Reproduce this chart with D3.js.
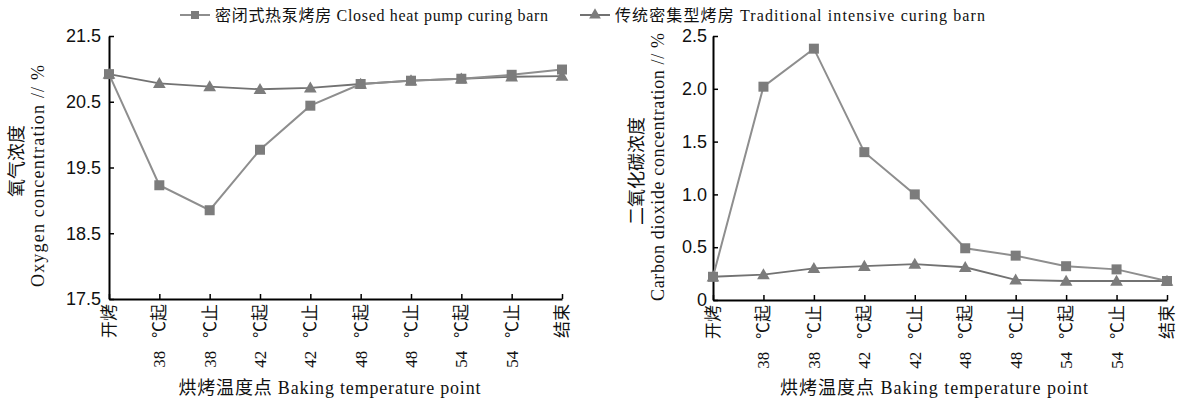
<!DOCTYPE html>
<html lang="zh">
<head>
<meta charset="utf-8"/>
<title>烤房氧气与二氧化碳浓度</title>
<script src="https://cdn.jsdelivr.net/npm/d3@7"></script>
<style>
  body { margin: 0; background: #fff; }
  svg { display: block; font-family: "Liberation Serif", "Noto Sans CJK SC", serif; }
  .tick text { font-size: 18px; fill: #111; }
  .xlab { font-size: 17px; white-space: pre; }
</style>
</head>
<body>
<svg id="chart" width="1187" height="405"></svg>
<script>
// baking temperature points
const stages = ["开烤", "38   ℃起", "38   ℃止", "42   ℃起", "42   ℃止", "48   ℃起", "48   ℃止", "54   ℃起", "54   ℃止", "结束"];

const seriesNames = ["密闭式热泵烤房 Closed heat pump curing barn", "传统密集型烤房 Traditional intensive curing barn"];

// oxygen concentration, %
const oxygenClosed = [20.92, 19.23, 18.85, 19.77, 20.44, 20.77, 20.82, 20.85, 20.91, 20.99];
const oxygenTraditional = [20.92, 20.78, 20.73, 20.69, 20.71, 20.77, 20.82, 20.85, 20.88, 20.89];
const oxygenTicks = [17.5, 18.5, 19.5, 20.5, 21.5];

// carbon dioxide concentration, %
const co2Closed = [0.22, 2.02, 2.38, 1.40, 1.00, 0.49, 0.42, 0.32, 0.29, 0.18];
const co2Traditional = [0.22, 0.24, 0.30, 0.32, 0.34, 0.31, 0.19, 0.18, 0.18, 0.18];
const co2Ticks = [0, 0.5, 1.0, 1.5, 2.0, 2.5];

const svg = d3.select("#chart");

const lineGrey = "#8e8e8e";
const triLine = "#727272";
const markGrey = "#7c7c7c";

function panel(opt) {
  const g = svg.append("g");
  const x = d3.scalePoint().domain(stages).range([opt.x0, opt.x1]);
  const y = d3.scaleLinear().domain(opt.domain).range([opt.y1, opt.y0]);

  // y axis
  const ya = g.append("g")
    .attr("transform", `translate(${opt.x0},0)`)
    .call(d3.axisLeft(y).tickValues(opt.ticks).tickSizeInner(-5).tickSizeOuter(0).tickPadding(opt.pad).tickFormat(opt.fmt));
  ya.select(".domain").attr("stroke", "#000").attr("stroke-width", 2);
  ya.selectAll(".tick line").attr("stroke", "#000").attr("stroke-width", 1.5);

  // x axis
  const xa = g.append("g")
    .attr("transform", `translate(0,${opt.y1})`)
    .call(d3.axisBottom(x).tickSizeInner(-5).tickSizeOuter(0).tickFormat(""));
  xa.select(".domain").attr("stroke", "#000").attr("stroke-width", 2);
  xa.selectAll(".tick line").attr("stroke", "#000").attr("stroke-width", 1.5);

  g.selectAll(".xlab")
    .data(stages)
    .enter().append("text")
    .attr("class", "xlab")
    .attr("transform", d => `translate(${x(d)},${opt.y1 + 5}) rotate(-90)`)
    .attr("dy", "0.35em")
    .attr("text-anchor", "end")
    .attr("fill", "#111")
    .text(d => d);

  const line = d3.line().x((d, i) => x(stages[i])).y(d => y(d));

  // traditional first, closed on top
  g.append("path").datum(opt.trad)
    .attr("d", line).attr("fill", "none").attr("stroke", triLine).attr("stroke-width", 1.8);
  g.selectAll(".tri").data(opt.trad).enter().append("path")
    .attr("transform", (d, i) => `translate(${x(stages[i])},${y(d) + 1})`)
    .attr("d", d3.symbol(d3.symbolTriangle, 70))
    .attr("fill", markGrey);

  g.append("path").datum(opt.closed)
    .attr("d", line).attr("fill", "none").attr("stroke", lineGrey).attr("stroke-width", 2);
  g.selectAll(".sq").data(opt.closed).enter().append("path")
    .attr("transform", (d, i) => `translate(${x(stages[i])},${y(d)})`)
    .attr("d", d3.symbol(d3.symbolSquare, 100))
    .attr("fill", markGrey);

  // axis titles
  g.append("text")
    .attr("x", (opt.x0 + opt.x1) / 2 - 6).attr("y", 394)
    .attr("text-anchor", "middle").attr("font-size", 18).attr("fill", "#111")
    .attr("textLength", opt.xLen).attr("lengthAdjust", "spacing")
    .text("烘烤温度点 Baking temperature point");

  g.append("text")
    .attr("transform", `translate(${opt.cnX},${opt.cnY}) rotate(-90)`)
    .attr("dy", "0.35em").attr("text-anchor", "middle")
    .attr("font-size", 18).attr("fill", "#111")
    .text(opt.cnTitle);
  g.append("text")
    .attr("transform", `translate(${opt.enX},${opt.enY}) rotate(-90)`)
    .attr("dy", "0.35em").attr("text-anchor", "middle")
    .attr("font-size", 18).attr("fill", "#111")
    .attr("textLength", opt.enLen).attr("lengthAdjust", "spacing")
    .text(opt.enTitle);
}

panel({
  x0: 109, x1: 562, y0: 36, y1: 299,
  domain: [17.5, 21.5], ticks: oxygenTicks, pad: 8, fmt: d3.format(".1f"),
  trad: oxygenTraditional, closed: oxygenClosed, xLen: 302,
  cnTitle: "氧气浓度", cnX: 17, cnY: 161,
  enTitle: "Oxygen concentration // %", enX: 38, enY: 176, enLen: 222
});

panel({
  x0: 713, x1: 1167, y0: 36, y1: 300,
  domain: [0, 2.5], ticks: co2Ticks, pad: 6, fmt: d => d === 0 ? "0" : d3.format(".1f")(d),
  trad: co2Traditional, closed: co2Closed, xLen: 308,
  cnTitle: "二氧化碳浓度", cnX: 637, cnY: 171,
  enTitle: "Carbon dioxide concentration // %", enX: 658, enY: 167, enLen: 268
});

// legend
const legend = svg.append("g").attr("font-size", 16).attr("fill", "#111");
const legendItems = [
  { name: seriesNames[0], x: 180, sym: d3.symbolSquare, size: 64, stroke: lineGrey, len: 333 },
  { name: seriesNames[1], x: 580, sym: d3.symbolTriangle, size: 60, stroke: triLine, len: 370 }
];
legendItems.forEach(it => {
  legend.append("line").attr("x1", it.x).attr("x2", it.x + 30).attr("y1", 15).attr("y2", 15)
    .attr("stroke", it.stroke).attr("stroke-width", 2);
  legend.append("path").attr("transform", `translate(${it.x + 15},15)`)
    .attr("d", d3.symbol(it.sym, it.size)).attr("fill", markGrey);
  legend.append("text").attr("x", it.x + 35).attr("y", 15).attr("dy", "0.35em")
    .attr("textLength", it.len).attr("lengthAdjust", "spacing")
    .text(it.name);
});
</script>
</body>
</html>
